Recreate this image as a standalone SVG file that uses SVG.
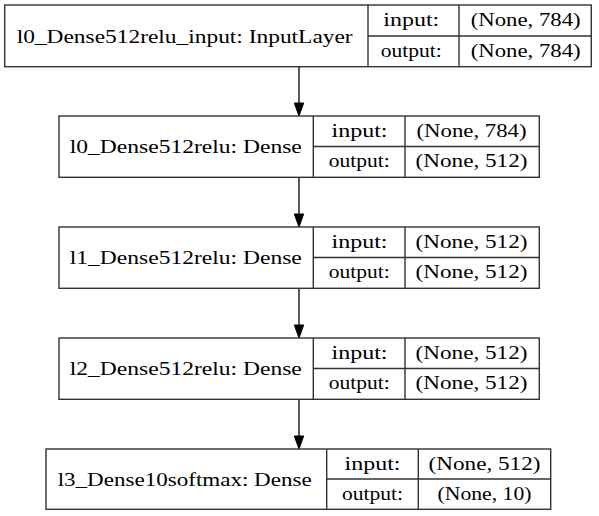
<svg xmlns="http://www.w3.org/2000/svg" width="599" height="516" viewBox="0 0 599 516">
<style>
.box{fill:#fff;stroke:#333;stroke-width:1.4}
.ln{stroke:#333;stroke-width:1.4;fill:none}
.t{font-size:19.5px;fill:#000;text-anchor:middle}
.edge{stroke:#000;stroke-width:1.3;fill:none}
.head{fill:#000;stroke:#000;stroke-width:1}
</style>
<rect width="599" height="516" fill="#fff"/>
<g id="connectors">
<line class="edge" x1="299" y1="66.7" x2="299" y2="103"/><polygon class="head" points="294.3,103 303.7,103 299,116"/>
<line class="edge" x1="299" y1="177.3" x2="299" y2="214"/><polygon class="head" points="294.3,214 303.7,214 299,227"/>
<line class="edge" x1="299" y1="288.3" x2="299" y2="325"/><polygon class="head" points="294.3,325 303.7,325 299,338"/>
<line class="edge" x1="299" y1="399.3" x2="299" y2="436"/><polygon class="head" points="294.3,436 303.7,436 299,449"/>
</g>
<g font-family="Liberation Serif, DejaVu Serif, Times New Roman, serif">
<g id="node0">
<rect class="box" x="4.7" y="5" width="586.6" height="61.7"/>
<path class="ln" d="M368,5V66.7M459,5V66.7M368,36H591.3"/>
<text class="t" x="184.7" y="42.8" textLength="336" lengthAdjust="spacingAndGlyphs">l0_Dense512relu_input: InputLayer</text>
<text class="t" x="411.3" y="26" textLength="56" lengthAdjust="spacingAndGlyphs">input:</text>
<text class="t" x="525.7" y="26" textLength="110" lengthAdjust="spacingAndGlyphs">(None, 784)</text>
<text class="t" x="411.2" y="56.8" textLength="61" lengthAdjust="spacingAndGlyphs">output:</text>
<text class="t" x="525.7" y="56.8" textLength="110" lengthAdjust="spacingAndGlyphs">(None, 784)</text>
</g>
<g id="node1">
<rect class="box" x="59" y="116" width="480.3" height="61.3"/>
<path class="ln" d="M313.3,116V177.3M405,116V177.3M313.3,146.5H539.3"/>
<text class="t" x="185.8" y="152.6" textLength="232" lengthAdjust="spacingAndGlyphs">l0_Dense512relu: Dense</text>
<text class="t" x="359.5" y="136.7" textLength="56" lengthAdjust="spacingAndGlyphs">input:</text>
<text class="t" x="471.5" y="136.7" textLength="110" lengthAdjust="spacingAndGlyphs">(None, 784)</text>
<text class="t" x="359.2" y="167.4" textLength="61" lengthAdjust="spacingAndGlyphs">output:</text>
<text class="t" x="471.5" y="167.4" textLength="112" lengthAdjust="spacingAndGlyphs">(None, 512)</text>
</g>
<g id="node2">
<rect class="box" x="59" y="227" width="480.3" height="61.3"/>
<path class="ln" d="M313.3,227V288.3M405,227V288.3M313.3,257.5H539.3"/>
<text class="t" x="185.8" y="263.6" textLength="232" lengthAdjust="spacingAndGlyphs">l1_Dense512relu: Dense</text>
<text class="t" x="359.5" y="247.7" textLength="56" lengthAdjust="spacingAndGlyphs">input:</text>
<text class="t" x="471.5" y="247.7" textLength="112" lengthAdjust="spacingAndGlyphs">(None, 512)</text>
<text class="t" x="359.2" y="278.4" textLength="61" lengthAdjust="spacingAndGlyphs">output:</text>
<text class="t" x="471.5" y="278.4" textLength="112" lengthAdjust="spacingAndGlyphs">(None, 512)</text>
</g>
<g id="node3">
<rect class="box" x="59" y="338" width="480.3" height="61.3"/>
<path class="ln" d="M313.3,338V399.3M405,338V399.3M313.3,368.5H539.3"/>
<text class="t" x="185.8" y="374.6" textLength="232" lengthAdjust="spacingAndGlyphs">l2_Dense512relu: Dense</text>
<text class="t" x="359.5" y="358.7" textLength="56" lengthAdjust="spacingAndGlyphs">input:</text>
<text class="t" x="471.5" y="358.7" textLength="112" lengthAdjust="spacingAndGlyphs">(None, 512)</text>
<text class="t" x="359.2" y="389.4" textLength="61" lengthAdjust="spacingAndGlyphs">output:</text>
<text class="t" x="471.5" y="389.4" textLength="112" lengthAdjust="spacingAndGlyphs">(None, 512)</text>
</g>
<g id="node4">
<rect class="box" x="46" y="449" width="504.7" height="60.3"/>
<path class="ln" d="M326.7,449V509.3M418.3,449V509.3M326.7,479H550.7"/>
<text class="t" x="184.7" y="485.7" textLength="254" lengthAdjust="spacingAndGlyphs">l3_Dense10softmax: Dense</text>
<text class="t" x="372.5" y="469.5" textLength="56" lengthAdjust="spacingAndGlyphs">input:</text>
<text class="t" x="484.5" y="469.5" textLength="112" lengthAdjust="spacingAndGlyphs">(None, 512)</text>
<text class="t" x="372.5" y="499.7" textLength="61" lengthAdjust="spacingAndGlyphs">output:</text>
<text class="t" x="484.5" y="499.7" textLength="94" lengthAdjust="spacingAndGlyphs">(None, 10)</text>
</g>
</g>
</svg>
